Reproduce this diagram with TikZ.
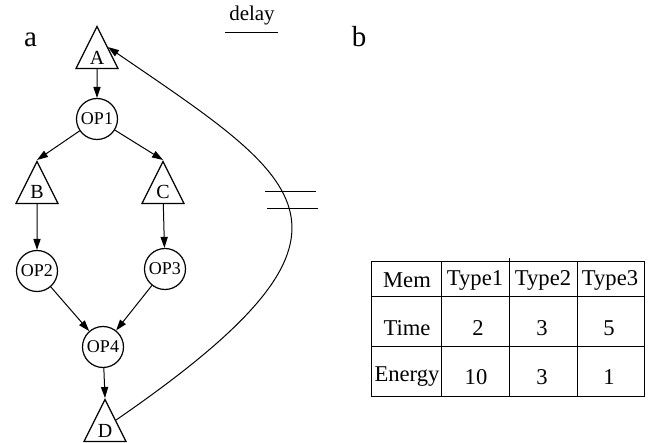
\documentclass[tikz,border=0pt]{standalone}
\usepackage{fontspec}
\setmainfont{Liberation Serif}
\usetikzlibrary{shapes.geometric, arrows.meta}
\tikzset{
    % Node styles
    opnode/.style={
        circle,
        draw,
        line width=0.6pt,
        minimum size=20.5pt,
        inner sep=0pt,
        font=\fontsize{9}{10}\selectfont
    },
    bufnode/.style={
        isosceles triangle,
        isosceles triangle stretches,
        shape border rotate=90,
        draw,
        line width=0.6pt,
        minimum width=21pt,
        minimum height=21pt,
        inner sep=0.5pt,
        anchor=apex,
        font=\fontsize{10}{11}\selectfont
    },
    % Arrow styles
    myarrow/.style={
        -{Triangle[length=5.5pt,width=3.6pt]},
        line width=0.5pt
    },
    % Table styles
    celltext/.style={
        inner sep=0pt,
        font=\fontsize{11.3}{12}\selectfont
    },
    panellabel/.style={
        inner sep=0pt,
        anchor=base,
        font=\fontsize{14.5}{16}\selectfont
    }
}
\begin{document}
\begin{tikzpicture}[x=0.5pt, y=-0.5pt]
    \useasboundingbox (0,0) rectangle (654,443);

    % Panel labels
    \node[panellabel] (lbla) at (30.5,47) {a};
    \node[panellabel] (lblb) at (359,47) {b};

    % Legend
    \node[celltext, font=\fontsize{10.5}{12}\selectfont] (delay) at (252,15) {delay};
    \draw[line width=0.5pt] (225,33) -- (278,33);

    % Graph nodes
    \node[bufnode] (A) at (97,25) {A};
    \node[opnode] (OP1) at (97,119) {OP1};
    \node[bufnode] (B) at (37,160) {B};
    \node[bufnode] (C) at (163,160) {C};
    \node[opnode] (OP2) at (37,271) {OP2};
    \node[opnode] (OP3) at (165,269) {OP3};
    \node[opnode] (OP4) at (103,347) {OP4};
    \node[bufnode] (D) at (105,398) {D};

    % Edges
    \draw[myarrow] (A) -- (OP1);
    \draw[myarrow] (OP1) -- (B.apex);
    \draw[myarrow] (OP1) -- (C.apex);
    \draw[myarrow] (B) -- (OP2);
    \draw[myarrow] (C) -- (OP3);
    \draw[myarrow] (OP2) -- (OP4);
    \draw[myarrow] (OP3) -- (OP4);
    \draw[myarrow] (OP4) -- (D.apex);

    % Feedback edge with delay
    \draw[myarrow] (D.right side) .. controls (392,230) and (305,182) .. (A.right side);
    \draw[line width=0.5pt] (265,192) -- (316,192);
    \draw[line width=0.5pt] (267,209) -- (318,209);

    % Table
    \draw[line width=0.5pt] (371,262) rectangle (644,397);
    \draw[line width=0.5pt] (441,262) -- (441,397);
    \draw[line width=0.5pt] (509,258) -- (509,397);
    \draw[line width=0.5pt] (577,262) -- (577,397);
    \draw[line width=0.5pt] (371,297) -- (644,297);
    \draw[line width=0.5pt] (371,347) -- (644,347);
    \foreach \x/\y/\t/\n in {407/280/Mem/m0, 475/280/Type1/m1, 543/280/Type2/m2, 610/280/Type3/m3,
                             407/328/Time/t0, 478/328/2/t1, 542/328/3/t2, 609/328/5/t3,
                             407/377/Energy/e0, 476/377/10/e1, 542/377/3/e2, 609/377/1/e3} {
        \node[celltext] (\n) at (\x,\y) {\t};
    }
\end{tikzpicture}
\end{document}
